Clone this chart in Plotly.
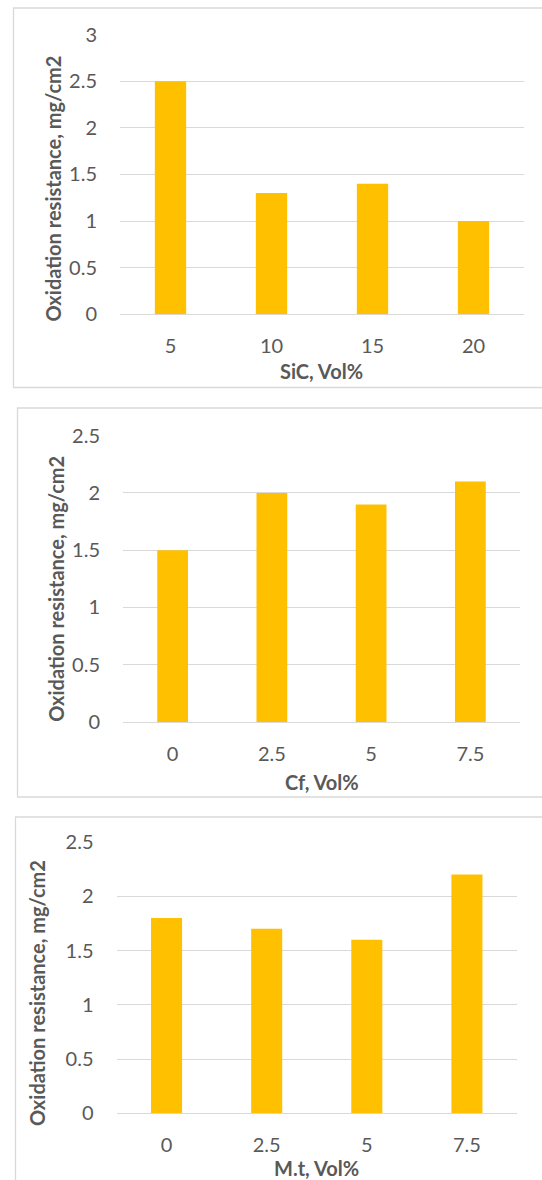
import plotly.graph_objects as go

# ---- data ----
sic_labels = ["5", "10", "15", "20"]
sic_values = [2.5, 1.3, 1.4, 1.0]

cf_labels = ["0", "2.5", "5", "7.5"]
cf_values = [1.5, 2.0, 1.9, 2.1]

mt_labels = ["0", "2.5", "5", "7.5"]
mt_values = [1.8, 1.7, 1.6, 2.2]

y_title = "Oxidation resistance, mg/cm2"
x_titles = ["SiC, Vol%", "Cf, Vol%", "M.t, Vol%"]
y_ranges = [3, 2.5, 2.5]

# ---- layout constants (pixels) ----
W, H = 542, 1180
BAR = "#FFC000"
GRID = "#D9D9D9"
TXT = "#595959"
FONT = "Lato, Open Sans, sans-serif"

# plot areas: (left, right, top, bottom) in px
plots = [(120, 524, 34.5, 314.3), (123, 520, 435.7, 722.0), (116.5, 517, 842.0, 1113.3)]
# panel borders: (left, top, bottom)
borders = [(13.5, 8, 387.5), (17.5, 408, 797), (15.5, 817, 1200)]
ytitle_pos = [(52.5, 189), (55.8, 589), (37, 993)]
xtitle_y = [371, 781.5, 1167.5]

px = lambda x: x / W
py = lambda y: 1 - y / H

fig = go.Figure()
series = [(sic_labels, sic_values), (cf_labels, cf_values), (mt_labels, mt_values)]
for i, (labs, vals) in enumerate(series):
    s = "" if i == 0 else str(i + 1)
    fig.add_trace(go.Bar(x=labs, y=vals, marker=dict(color=BAR, line=dict(width=0)),
                         xaxis="x" + s, yaxis="y" + s, showlegend=False))

layout = dict(template="none", width=W, height=H, autosize=False,
              margin=dict(l=0, r=0, t=0, b=0, pad=0),
              paper_bgcolor="white", plot_bgcolor="white", bargap=0.69,
              font=dict(family=FONT, color=TXT, size=20))
shapes, annotations = [], []
for i in range(3):
    s = "" if i == 0 else str(i + 1)
    l, r, t, b = plots[i]
    layout["xaxis" + s] = dict(domain=[px(l), px(r)], anchor="y" + s, type="category",
                              showgrid=False, zeroline=False, showline=False, ticks="",
                              automargin=False,
                              tickfont=dict(size=20, color=TXT, family=FONT),
                              ticklabelstandoff=18, fixedrange=True)
    layout["yaxis" + s] = dict(domain=[py(b), py(t)], anchor="x" + s, range=[0, y_ranges[i]],
                              dtick=0.5, showgrid=True, gridcolor=GRID, gridwidth=1,
                              zeroline=True, zerolinecolor=GRID, zerolinewidth=1,
                              showline=False, ticks="", automargin=False,
                              tickfont=dict(size=20, color=TXT, family=FONT),
                              ticklabelstandoff=22, fixedrange=True)
    bl, bt, bb = borders[i]
    shapes.append(dict(type="rect", xref="paper", yref="paper", x0=px(bl), x1=px(W + 10),
                       y0=py(bb), y1=py(bt), line=dict(color=GRID, width=1.3),
                       fillcolor="rgba(0,0,0,0)", layer="below"))
    tx, ty = ytitle_pos[i]
    annotations.append(dict(text="<b>" + y_title + "</b>", xref="paper", yref="paper",
                            x=px(tx), y=py(ty), xanchor="center", yanchor="middle",
                            textangle=-90, showarrow=False,
                            font=dict(size=20, color=TXT, family=FONT)))
    annotations.append(dict(text="<b>" + x_titles[i] + "</b>", xref="paper", yref="paper",
                            x=px((l + r) / 2), y=py(xtitle_y[i]), xanchor="center",
                            yanchor="middle", showarrow=False,
                            font=dict(size=20, color=TXT, family=FONT)))
layout["shapes"] = shapes
layout["annotations"] = annotations
fig.update_layout(**layout)
fig.write_html("out.html", config={"displayModeBar": False})
